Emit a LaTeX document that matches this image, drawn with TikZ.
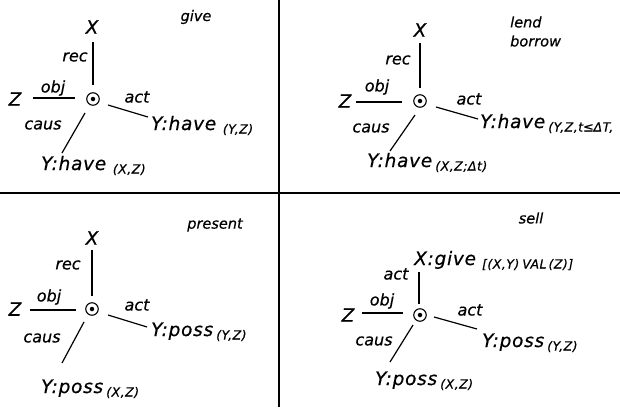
\documentclass[tikz,border=0pt]{standalone}
\usepackage{fontspec}
\setmainfont{DejaVu Sans}[ItalicFeatures={FakeBold=0.5}]
\newfontfamily\symfont{DejaVu Sans}[FakeBold=0.5]
\newcommand{\subtxt}[1]{\raisebox{-3.5pt}{\fontsize{12.5}{13}\selectfont #1}}
\begin{document}
\begin{tikzpicture}[x=1pt,y=-1pt,
  every node/.style={inner sep=0pt,font=\fontsize{18.5}{19}\selectfont\itshape\addfontfeature{LetterSpace=4}},
  lbl/.style={font=\fontsize{16}{17}\selectfont\itshape},
  ttl/.style={font=\fontsize{14.5}{16}\selectfont\itshape},
  txt/.style={anchor=base west},
  ln/.style={line width=1.2pt},
  hub/.style={circle,draw,line width=1.1pt,minimum size=12.5pt},
  dot/.style={circle,fill,minimum size=4.5pt}]
\useasboundingbox (0,0) rectangle (620,407);
% separators
\coordinate (vt) at (279,0); \coordinate (vb) at (279,407);
\coordinate (hl) at (0,193); \coordinate (hr) at (620,193);
\draw[line width=1.3pt] (vt) -- (vb);
\draw[line width=1.3pt] (hl) -- (hr);

% ---------- top left: give ----------
\node[ttl] (tlt) at (196,17) {give};
\node[hub] (c1) at (93,99) {}; \node[dot] (d1) at (93,99) {};
\node (tlx) at (92,27) {X};
\node (tlz) at (15,99) {Z};
\node[txt] (tly) at (151,130) {Y:have \subtxt{(Y,Z)}};
\node[txt] (tlw) at (41,170) {Y:have \subtxt{(X,Z)}};
\node[lbl] (tlrec) at (75,57) {rec};
\node[lbl] (tlobj) at (53,88) {obj};
\node[lbl] (tlact) at (137,97) {act};
\node[lbl] (tlcaus) at (43,125) {caus};
\coordinate (tlx1) at (93,42); \coordinate (tlx2) at (93,85);
\coordinate (tlz1) at (33,98); \coordinate (tlz2) at (75,98);
\coordinate (tly1) at (108,105); \coordinate (tly2) at (148,117);
\coordinate (tlw1) at (85,113); \coordinate (tlw2) at (62,153);
\draw[ln] (tlx1) -- (tlx2);
\draw[ln] (tlz1) -- (tlz2);
\draw[ln] (tly1) -- (tly2);
\draw[ln] (tlw1) -- (tlw2);

% ---------- top right: lend / borrow ----------
\node[ttl,anchor=west] (trt1) at (510,22) {lend};
\node[ttl,anchor=west] (trt2) at (510,41) {borrow};
\node[hub] (c2) at (420,101) {}; \node[dot] (d2) at (420,101) {};
\node (trx) at (420,30) {X};
\node (trz) at (345,101) {Z};
\node[txt] (try) at (480,128) {Y:have\,\subtxt{(Y,Z,t{\symfont\itshape ≤}ΔT,}};
\node[txt] (trw) at (367,167) {Y:have\,\subtxt{(X,Z;Δt)}};
\node[lbl] (trrec) at (398,60) {rec};
\node[lbl] (trobj) at (377,87) {obj};
\node[lbl] (tract) at (469,99) {act};
\node[lbl] (trcaus) at (371,128) {caus};
\coordinate (trx1) at (420,43); \coordinate (trx2) at (420,88);
\coordinate (trz1) at (356,102); \coordinate (trz2) at (402,102);
\coordinate (try1) at (436,107); \coordinate (try2) at (478,119);
\coordinate (trw1) at (415,115); \coordinate (trw2) at (390,151);
\draw[ln] (trx1) -- (trx2);
\draw[ln] (trz1) -- (trz2);
\draw[ln] (try1) -- (try2);
\draw[ln] (trw1) -- (trw2);

% ---------- bottom left: present ----------
\node[ttl] (blt) at (215,225) {present};
\node[hub] (c3) at (92,309) {}; \node[dot] (d3) at (92,309) {};
\node (blx) at (92,238) {X};
\node (blz) at (15,309) {Z};
\node[txt] (bly) at (151,336) {Y:poss\,\subtxt{(Y,Z)}};
\node[txt] (blw) at (41,393) {Y:poss\,\subtxt{(X,Z)}};
\node[lbl] (blrec) at (68,265) {rec};
\node[lbl] (blobj) at (49,297) {obj};
\node[lbl] (blact) at (137,305) {act};
\node[lbl] (blcaus) at (42,338) {caus};
\coordinate (blx1) at (92,250); \coordinate (blx2) at (92,296);
\coordinate (blz1) at (30,310); \coordinate (blz2) at (76,310);
\coordinate (bly1) at (108,315); \coordinate (bly2) at (147,327);
\coordinate (blw1) at (84,322); \coordinate (blw2) at (62,363);
\draw[ln] (blx1) -- (blx2);
\draw[ln] (blz1) -- (blz2);
\draw[ln] (bly1) -- (bly2);
\draw[ln] (blw1) -- (blw2);

% ---------- bottom right: sell ----------
\node[ttl] (brt) at (531,218) {sell};
\node[hub] (c4) at (420,315) {}; \node[dot] (d4) at (420,315) {};
\node[txt] (brx) at (414,265) {X:give\hspace{6pt}\subtxt{[(X,Y)\hspace{3pt}VAL\hspace{2pt}(Z)]}};
\node (brz) at (348,315) {Z};
\node[txt] (bry) at (482,347) {Y:poss\,\subtxt{(Y,Z)}};
\node[txt] (brw) at (375,385) {Y:poss\,\subtxt{(X,Z)}};
\node[lbl] (bract1) at (396,274) {act};
\node[lbl] (brobj) at (382,301) {obj};
\node[lbl] (bract2) at (470,310) {act};
\node[lbl] (brcaus) at (374,341) {caus};
\coordinate (brx1) at (419,272); \coordinate (brx2) at (419,304);
\coordinate (brz1) at (362,313); \coordinate (brz2) at (403,313);
\coordinate (bry1) at (434,317); \coordinate (bry2) at (477,329);
\coordinate (brw1) at (413,325); \coordinate (brw2) at (390,362);
\draw[ln] (brx1) -- (brx2);
\draw[ln] (brz1) -- (brz2);
\draw[ln] (bry1) -- (bry2);
\draw[ln] (brw1) -- (brw2);
\end{tikzpicture}
\end{document}
